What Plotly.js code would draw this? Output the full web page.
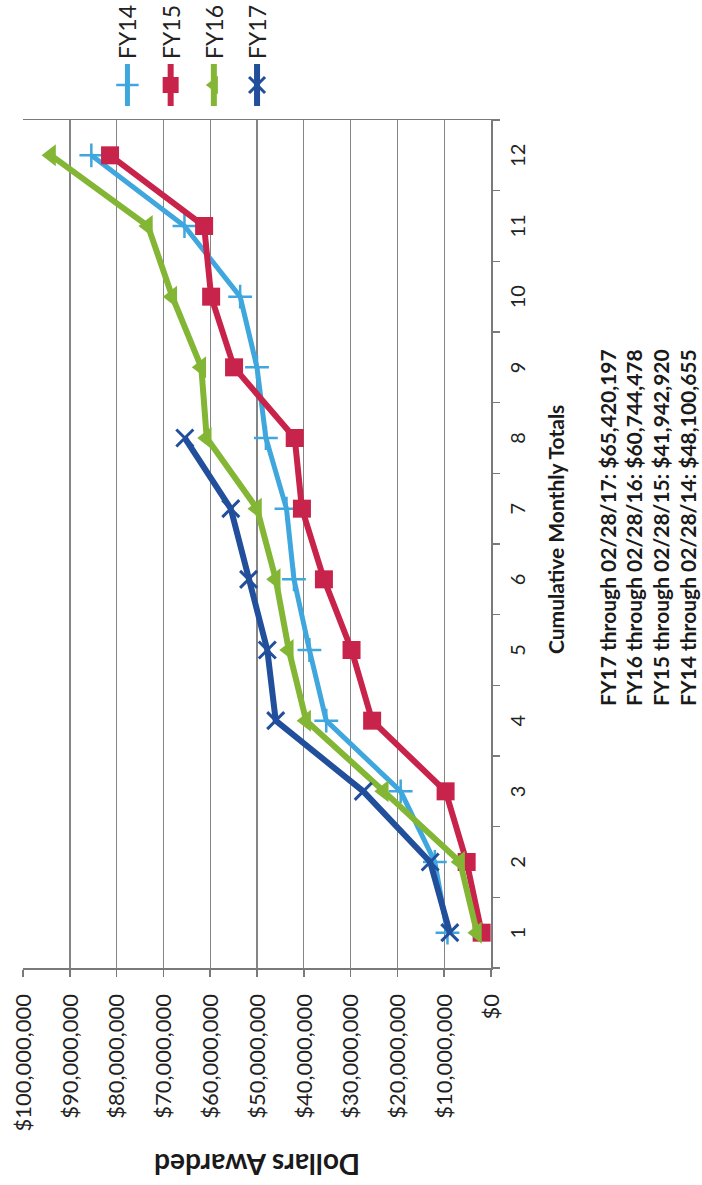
<!DOCTYPE html>
<html>
<head>
<meta charset="utf-8">
<script src="https://cdn.plot.ly/plotly-3.0.1.min.js"></script>
<style>
  html, body { margin:0; padding:0; width:702px; height:1185px; overflow:hidden; background:#ffffff; }
  #wrap { position:absolute; left:0; top:0; width:1185px; height:702px;
          transform-origin:0 0; transform:translate(0px,1185px) rotate(-90deg); }
  #chart { width:1185px; height:702px; }
</style>
</head>
<body>
<div id="wrap"><div id="chart"></div></div>
<script>
// ---- data (cumulative dollars awarded by fiscal-year month) ----
const months = ['1','2','3','4','5','6','7','8','9','10','11','12'];
const seriesNames = ['FY14','FY15','FY16','FY17'];
const fy14 = [9300000, 12000000, 19300000, 35200000, 38800000, 42100000, 43700000, 48100655, 50000000, 53600000, 65500000, 85400000];
const fy15 = [2000000, 5200000, 9700000, 25400000, 29800000, 35700000, 40400000, 41942920, 54900000, 59800000, 61300000, 81400000];
const fy16 = [3000000, 6600000, 22900000, 39500000, 43200000, 46000000, 50000000, 60744478, 61900000, 68100000, 73300000, 94000000];
const fy17 = [8800000, 13000000, 27300000, 46000000, 47800000, 51800000, 55600000, 65420197];
const dollarTicks = [0,10000000,20000000,30000000,40000000,50000000,60000000,70000000,80000000,90000000,100000000];
const dollarTickLabels = ['$0','$10,000,000','$20,000,000','$30,000,000','$40,000,000','$50,000,000',
                          '$60,000,000','$70,000,000','$80,000,000','$90,000,000','$100,000,000'];
const titleText = 'Cumulative Monthly Totals';
const yTitleText = 'Dollars Awarded';
const summaryLines = [
  'FY17 through 02/28/17: $65,420,197',
  'FY16 through 02/28/16: $60,744,478',
  'FY15 through 02/28/15: $41,942,920',
  'FY14 through 02/28/14: $48,100,655'
];

// ---- styles ----
const FONT = 'Lato, "Open Sans", "DejaVu Sans", sans-serif';
const colors = ['#3fa7dd', '#c8234a', '#82b634', '#214f9c'];
const values = [fy14, fy15, fy16, fy17];
const markers = [
  {symbol:'cross-thin', size:17, line:{width:2.5, color:colors[0]}, color:colors[0]},
  {symbol:'square', size:18, color:colors[1], line:{width:0}},
  {symbol:'triangle-up', size:19, color:colors[2], line:{width:0}},
  {symbol:'x-thin', size:17, line:{width:3, color:colors[3]}, color:colors[3]}
];
const widths = [5, 6, 6, 6];

const traces = values.map((v, i) => ({
  type:'scatter', mode:'lines+markers',
  x: months.slice(0, v.length), y: v,
  name: seriesNames[i], legendgroup: seriesNames[i],
  line:{color:colors[i], width:widths[i]},
  marker: markers[i],
  cliponaxis: false
}));

const W = 1185, H = 702;
const M = {l:217, r:120, t:23, b:211, autoexpand:false};
const pw = W - M.l - M.r, ph = H - M.t - M.b;
const px = x => (x - M.l) / pw;
const py = y => (H - M.b - y) / ph;

const annotations = [
  {text: yTitleText, xref:'paper', yref:'paper', x: px(20), y: py(257), xanchor:'center', yanchor:'middle',
   textangle:-90, showarrow:false, font:{family:FONT, size:28, color:'#1a1a1a', weight:'bold'}},
  {text: titleText, xref:'paper', yref:'paper', x: px(655), y: py(555), xanchor:'center', yanchor:'middle',
   showarrow:false, font:{family:FONT, size:21, color:'#1a1a1a', weight:'bold'}}
];
const lineY = [607, 633, 660, 687];
summaryLines.forEach((t, i) => annotations.push({
  text: t, xref:'paper', yref:'paper', x: px(477), y: py(lineY[i]), xanchor:'left', yanchor:'middle',
  showarrow:false, font:{family:FONT, size:21, color:'#1a1a1a', weight:'bold'}
}));

const layout = {
  width:W, height:H, margin:M,
  paper_bgcolor:'#ffffff', plot_bgcolor:'#ffffff',
  font:{family:FONT, color:'#222'},
  showlegend:true,
  legend:{x: px(1074), xanchor:'left', y: py(106), yanchor:'top',
          font:{family:FONT, size:23, color:'#222'}, itemwidth:42, tracegroupgap:10.3,
          bgcolor:'rgba(0,0,0,0)', traceorder:'grouped'},
  xaxis:{type:'category', range:[-0.5, 11.5], tickson:'boundaries', ticks:'outside', ticklen:7, tickwidth:1.5, tickcolor:'#7a7a7a',
         showline:true, linecolor:'#7a7a7a', linewidth:1.5, showgrid:false, zeroline:false,
         tickfont:{family:FONT, size:20, color:'#222'}, ticklabelstandoff:8, fixedrange:true},
  yaxis:{range:[0, 100000000], tickmode:'array', tickvals:dollarTicks, ticktext:dollarTickLabels,
         showgrid:true, gridcolor:'#858585', gridwidth:1.4, zeroline:false,
         showline:true, mirror:true, linecolor:'#7a7a7a', linewidth:1.5,
         ticks:'outside', ticklen:7, tickwidth:1.5, tickcolor:'#7a7a7a',
         tickfont:{family:FONT, size:22, color:'#222'}, ticklabelstandoff:13, fixedrange:true},
  annotations: annotations
};

Plotly.newPlot('chart', traces, layout, {staticPlot:true, displayModeBar:false});
</script>
</body>
</html>
